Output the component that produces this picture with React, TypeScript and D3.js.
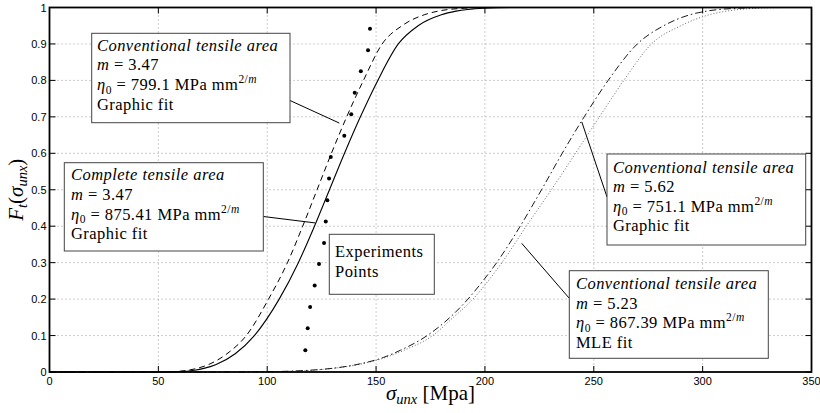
import React from 'react';
import * as d3 from 'd3';

// ---------- data ----------
const xTicks = [0, 50, 100, 150, 200, 250, 300, 350];
const xTickLabels = ['0', '50', '100', '150', '200', '250', '300', '350'];
const yTicks = [0, 0.1, 0.2, 0.3, 0.4, 0.5, 0.6, 0.7, 0.8, 0.9, 1];
const yTickLabels = ['0', '0.1', '0.2', '0.3', '0.4', '0.5', '0.6', '0.7', '0.8', '0.9', '1'];

// Complete tensile area, graphic fit (solid)
const completeX = [0, 50, 59.3, 66.6, 70.9, 76.3, 85.3, 94.1, 105.5, 114.3, 121.7, 128.6, 135.5, 142.8, 150.8, 160.2, 169.3, 180.0, 186.7, 199.3, 212, 350];
const completeF = [0, 0, 0.001, 0.005, 0.01, 0.02, 0.05, 0.1, 0.2, 0.3, 0.4, 0.5, 0.6, 0.7, 0.8, 0.9, 0.95, 0.98, 0.99, 0.998, 1, 1];

// Conventional tensile area, graphic fit m=3.47 (dashed)
const convGraphX = [0, 48, 56.7, 63.7, 67.8, 72.9, 81.5, 90.4, 100.6, 109.3, 116.3, 122.9, 129.5, 136.5, 144.2, 152.8, 161.9, 172.1, 178.5, 190.5, 202, 350];
const convGraphF = [0, 0, 0.001, 0.005, 0.01, 0.02, 0.05, 0.1, 0.2, 0.3, 0.4, 0.5, 0.6, 0.7, 0.8, 0.9, 0.95, 0.98, 0.99, 0.998, 1, 1];

// Conventional tensile area, MLE fit m=5.23 (dash-dot)
const convMleX = [0, 60, 95.9, 109.2, 120.0, 129.7, 140.7, 153.4, 161.3, 173.5, 184.0, 192.2, 199.1, 205.4, 216.2, 226.0, 235.5, 245.6, 256.6, 270.0, 282.1, 294.1, 301.8, 316.5, 330, 350];
const convMleF = [0, 0, 0.0005, 0.002, 0.005, 0.01, 0.02, 0.04, 0.06, 0.1, 0.15, 0.2, 0.25, 0.3, 0.4, 0.5, 0.6, 0.7, 0.8, 0.9, 0.95, 0.98, 0.99, 0.998, 1, 1];

// Conventional tensile area, graphic fit m=5.62 (dotted)
const convGraph2X = [0, 60, 96.5, 110.0, 121.0, 130.5, 141.5, 154.5, 163.0, 176.0, 185.5, 194.5, 201.5, 207.8, 219.0, 230.5, 241.6, 252.6, 263.8, 276.5, 290.0, 303.0, 311.0, 325.0, 340, 350];
const convGraph2F = [0, 0, 0.0005, 0.002, 0.005, 0.01, 0.02, 0.04, 0.06, 0.1, 0.15, 0.2, 0.25, 0.3, 0.4, 0.5, 0.6, 0.7, 0.8, 0.9, 0.95, 0.98, 0.99, 0.998, 1, 1];

// Experiment points
const expX = [117.5, 118.6, 119.7, 121.8, 123.8, 126.1, 126.9, 127.6, 128.4, 129.2, 135.4, 138.6, 140.2, 143.0, 146.3, 147.2];
const expF = [0.06, 0.12, 0.178, 0.237, 0.296, 0.354, 0.413, 0.471, 0.531, 0.59, 0.648, 0.707, 0.766, 0.825, 0.883, 0.942];

// Annotation tip points (data coordinates on the curves)
const tipX = [133.1, 122.0, 244.5, 216.9];
const tipF = [0.683, 0.409, 0.686, 0.353];

type Seg = { t: string; i?: boolean; sub?: boolean; sup?: boolean };

const box1Text: Seg[][] = [
  [{ t: 'Conventional tensile area', i: true }],
  [{ t: 'm', i: true }, { t: ' = 3.47' }],
  [{ t: 'η', i: true }, { t: '0', sub: true }, { t: ' = 799.1 MPa mm' }, { t: '2/', sup: true }, { t: 'm', sup: true, i: true }],
  [{ t: 'Graphic fit' }],
];
const box2Text: Seg[][] = [
  [{ t: 'Complete tensile area', i: true }],
  [{ t: 'm', i: true }, { t: ' = 3.47' }],
  [{ t: 'η', i: true }, { t: '0', sub: true }, { t: ' = 875.41 MPa mm' }, { t: '2/', sup: true }, { t: 'm', sup: true, i: true }],
  [{ t: 'Graphic fit' }],
];
const box3Text: Seg[][] = [[{ t: 'Experiments' }], [{ t: 'Points' }]];
const box4Text: Seg[][] = [
  [{ t: 'Conventional tensile area', i: true }],
  [{ t: 'm', i: true }, { t: ' = 5.62' }],
  [{ t: 'η', i: true }, { t: '0', sub: true }, { t: ' = 751.1 MPa mm' }, { t: '2/', sup: true }, { t: 'm', sup: true, i: true }],
  [{ t: 'Graphic fit' }],
];
const box5Text: Seg[][] = [
  [{ t: 'Conventional tensile area', i: true }],
  [{ t: 'm', i: true }, { t: ' = 5.23' }],
  [{ t: 'η', i: true }, { t: '0', sub: true }, { t: ' = 867.39 MPa mm' }, { t: '2/', sup: true }, { t: 'm', sup: true, i: true }],
  [{ t: 'MLE fit' }],
];

// ---------- layout ----------
const W = 820;
const H = 413;
const L = 49.5;
const R = 811.5;
const T = 7.5;
const B = 372;

const SERIF = '"Liberation Serif", "Times New Roman", serif';
const SANS = '"Liberation Sans", Arial, Helvetica, sans-serif';

function segSpans(segs: Seg[], size: number, small: number, subShift: number, supShift: number) {
  let off = 0;
  return segs.map((s, k) => {
    const target = s.sub ? subShift : s.sup ? -supShift : 0;
    const dy = target - off;
    off = target;
    return (
      <tspan
        key={k}
        dy={dy !== 0 ? dy : undefined}
        fontStyle={s.i ? 'italic' : 'normal'}
        fontSize={s.sub || s.sup ? small : size}
      >
        {s.t}
      </tspan>
    );
  });
}

function Box({ x, y, w, h, lines, tx, ty, lh }: { x: number; y: number; w: number; h: number; lines: Seg[][]; tx: number; ty: number; lh: number }) {
  return (
    <g>
      <rect x={x} y={y} width={w} height={h} fill="#fff" stroke="#444" strokeWidth={1} />
      {lines.map((ln, i) => (
        <text
          key={i}
          x={tx}
          y={ty + i * lh}
          fontFamily={SERIF}
          fontSize={16.5}
          fill="#000"
          style={{ whiteSpace: 'pre', letterSpacing: '0.45px' }}
        >
          {segSpans(ln, 16.5, 11.5, 3.5, 7)}
        </text>
      ))}
    </g>
  );
}

export default function App() {
  const xs = d3.scaleLinear().domain([0, 350]).range([L, R]);
  const ys = d3.scaleLinear().domain([0, 1]).range([B, T]);

  const line = d3
    .line<[number, number]>()
    .x((d) => xs(d[0]))
    .y((d) => ys(d[1]))
    .curve(d3.curveMonotoneX);

  const zip = (a: number[], b: number[]) => a.map((v, i) => [v, b[i]] as [number, number]);

  const series = [
    { d: line(zip(convGraph2X, convGraph2F)), dash: '1 2', color: '#666', w: 1 },
    { d: line(zip(convMleX, convMleF)), dash: '7 3 1.5 3', color: '#000', w: 0.9 },
    { d: line(zip(convGraphX, convGraphF)), dash: '6 4', color: '#000', w: 1 },
    { d: line(zip(completeX, completeF)), dash: undefined, color: '#000', w: 1.1 },
  ];

  const tips = tipX.map((v, i) => [xs(v), ys(tipF[i])]);

  return (
    <svg
      width={W}
      height={H}
      viewBox={`0 0 ${W} ${H}`}
      style={{ position: 'absolute', left: 0, top: 0, background: '#fff' }}
    >
      <rect x={0} y={0} width={W} height={H} fill="#fff" />
      {/* grid */}
      <g stroke="#999" strokeWidth={1} strokeDasharray="1 3">
        {xTicks.slice(1, -1).map((t) => (
          <line key={'gx' + t} x1={xs(t)} x2={xs(t)} y1={T} y2={B} />
        ))}
        {yTicks.slice(1, -1).map((t) => (
          <line key={'gy' + t} x1={L} x2={R} y1={ys(t)} y2={ys(t)} />
        ))}
      </g>

      {/* curves */}
      {series.map((s, i) => (
        <path key={i} d={s.d || ''} fill="none" stroke={s.color} strokeWidth={s.w} strokeDasharray={s.dash} />
      ))}

      {/* experiment points */}
      {expX.map((v, i) => (
        <circle key={'p' + i} cx={xs(v)} cy={ys(expF[i])} r={2} fill="#000" />
      ))}

      {/* ticks */}
      <g stroke="#000" strokeWidth={1}>
        {xTicks.map((t) => (
          <g key={'tx' + t}>
            <line x1={xs(t)} x2={xs(t)} y1={B} y2={B - 6} />
            <line x1={xs(t)} x2={xs(t)} y1={T} y2={T + 6} />
          </g>
        ))}
        {yTicks.map((t) => (
          <g key={'ty' + t}>
            <line x1={L} x2={L + 6} y1={ys(t)} y2={ys(t)} />
            <line x1={R} x2={R - 6} y1={ys(t)} y2={ys(t)} />
          </g>
        ))}
      </g>

      {/* frame */}
      <rect x={L} y={T} width={R - L} height={B - T} fill="none" stroke="#000" strokeWidth={1.8} />

      {/* tick labels */}
      <g fontFamily={SANS} fontSize={11} fill="#000">
        {xTicks.map((t, i) => (
          <text key={'lx' + t} x={xs(t)} y={B + 13} textAnchor="middle">
            {xTickLabels[i]}
          </text>
        ))}
        {yTicks.map((t, i) => (
          <text key={'ly' + t} x={L - 3} y={ys(t) + 4} textAnchor="end">
            {yTickLabels[i]}
          </text>
        ))}
      </g>

      {/* axis labels */}
      <text x={(L + R) / 2} y={400} textAnchor="middle" fontFamily={SERIF} fontSize={21} style={{ whiteSpace: 'pre' }}>
        {segSpans([{ t: 'σ', i: true }, { t: 'unx', i: true, sub: true }, { t: ' [Mpa]' }], 21, 14.5, 4, 8)}
      </text>
      <text
        transform={`translate(23,${(T + B) / 2}) rotate(-90)`}
        textAnchor="middle"
        fontFamily={SERIF}
        fontSize={21}
        style={{ whiteSpace: 'pre' }}
      >
        {segSpans(
          [
            { t: 'F', i: true },
            { t: 't', i: true, sub: true },
            { t: '(' },
            { t: 'σ', i: true },
            { t: 'unx', i: true, sub: true },
            { t: ')' },
          ],
          21,
          14.5,
          4,
          8
        )}
      </text>

      {/* annotation lines */}
      <g stroke="#000" strokeWidth={1}>
        <line x1={290} y1={100.5} x2={tips[0][0]} y2={tips[0][1]} />
        <line x1={263.3} y1={216.5} x2={tips[1][0]} y2={tips[1][1]} />
        <line x1={tips[2][0]} y1={tips[2][1]} x2={607} y2={197} />
        <line x1={tips[3][0]} y1={tips[3][1]} x2={569.3} y2={298.3} />
      </g>

      {/* annotation boxes */}
      <Box x={91.7} y={33.3} w={198.3} h={89.4} lines={box1Text} tx={97} ty={50.7} lh={19.7} />
      <Box x={64.3} y={162.7} w={199} h={88.3} lines={box2Text} tx={71} ty={180.3} lh={19.7} />
      <Box x={329.3} y={234.3} w={105} h={60} lines={box3Text} tx={335} ty={257.3} lh={20} />
      <Box x={607} y={154} w={198.7} h={91} lines={box4Text} tx={613} ty={172.5} lh={19.5} />
      <Box x={569.3} y={270.7} w={199} h={87.6} lines={box5Text} tx={576} ty={289.3} lh={19.5} />
    </svg>
  );
}
